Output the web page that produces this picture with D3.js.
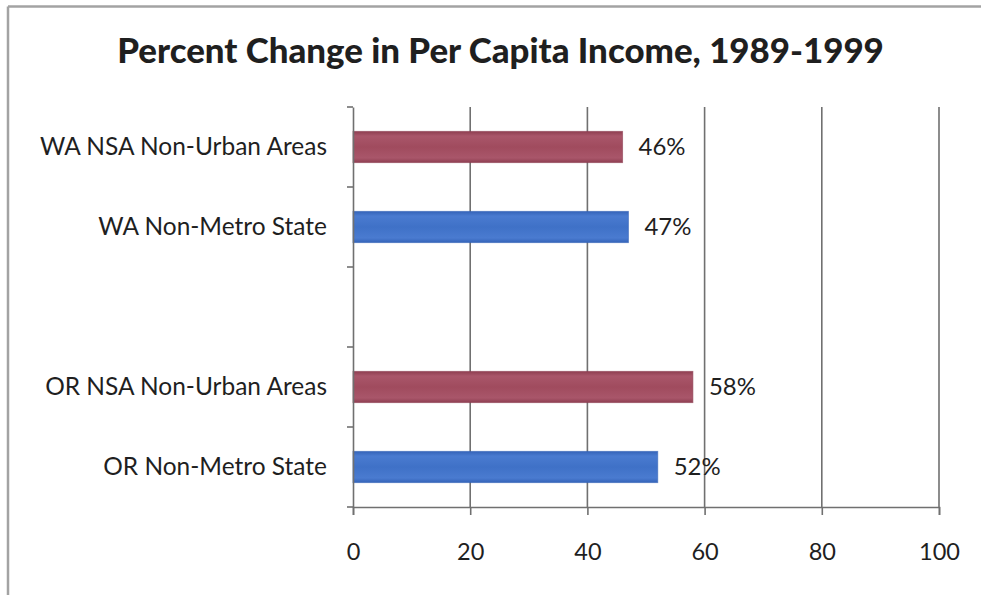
<!DOCTYPE html>
<html>
<head>
<meta charset="utf-8">
<script src="https://cdn.jsdelivr.net/npm/d3@7"></script>
<style>
  html, body { margin: 0; padding: 0; background: #fff; }
  svg { display: block; }
  text { font-family: Lato, "Open Sans", "Liberation Sans", sans-serif; fill: #1f1f1f; }
</style>
</head>
<body>
<svg id="chart" width="981" height="595"></svg>
<script>
// Chart data
const title = "Percent Change in Per Capita Income, 1989-1999";
const categories = ["WA NSA Non-Urban Areas", "WA Non-Metro State", "", "OR NSA Non-Urban Areas", "OR Non-Metro State"];
const values = [46, 47, null, 58, 52];
const groups = ["nsa", "state", null, "nsa", "state"];
const xTicks = [0, 20, 40, 60, 80, 100];

const W = 981, H = 595;
const plot = { left: 353, right: 939, top: 107, bottom: 507 };
const colors = { nsa: ["#a9566a", "#a04b5e", "#8e3e51"], state: ["#4a7bd0", "#3f71c7", "#3463b8"] };

const svg = d3.select("#chart");

// Scale a text element's font size so its rendered width hits a target width
function fitWidth(sel, target) {
  const node = sel.node();
  sel.style("font-size", "100px");
  const w = node.getComputedTextLength();
  const size = 100 * target / w;
  sel.style("font-size", size + "px");
  return size;
}

// Outer frame (top and left edges)
svg.append("line").attr("x1", 8).attr("x2", W).attr("y1", 6.5).attr("y2", 6.5)
  .attr("stroke", "#a3a3a3").attr("stroke-width", 2.5);
svg.append("line").attr("x1", 8).attr("x2", 8).attr("y1", 6.5).attr("y2", H)
  .attr("stroke", "#a3a3a3").attr("stroke-width", 2.5);

// Bar gradients (soft bevel)
const defs = svg.append("defs");
Object.entries(colors).forEach(([k, c]) => {
  const g = defs.append("linearGradient").attr("id", "grad-" + k)
    .attr("x1", 0).attr("x2", 0).attr("y1", 0).attr("y2", 1);
  g.append("stop").attr("offset", "0%").attr("stop-color", c[2]);
  g.append("stop").attr("offset", "15%").attr("stop-color", c[0]);
  g.append("stop").attr("offset", "50%").attr("stop-color", c[1]);
  g.append("stop").attr("offset", "85%").attr("stop-color", c[0]);
  g.append("stop").attr("offset", "100%").attr("stop-color", c[2]);
});

// Scales
const x = d3.scaleLinear().domain([0, 100]).range([plot.left, plot.right]);
const y = d3.scaleBand().domain(categories).range([plot.top, plot.bottom])
  .paddingInner(0.61).paddingOuter(0.305);

// Vertical gridlines
svg.append("g").selectAll("line").data(xTicks.filter(d => d > 0)).join("line")
  .attr("x1", d => x(d)).attr("x2", d => x(d))
  .attr("y1", plot.top).attr("y2", plot.bottom)
  .attr("stroke", "#707070").attr("stroke-width", 1.6);

// Bars
const rows = categories.map((c, i) => ({ cat: c, value: values[i], group: groups[i] }))
  .filter(d => d.value != null);

svg.append("g").selectAll("rect").data(rows).join("rect")
  .attr("x", x(0))
  .attr("y", d => y(d.cat))
  .attr("width", d => x(d.value) - x(0))
  .attr("height", y.bandwidth())
  .attr("fill", d => `url(#grad-${d.group})`)
  .attr("stroke", d => colors[d.group][2])
  .attr("stroke-opacity", 0.6)
  .attr("stroke-width", 1);

// Value labels
const valLabels = svg.append("g").selectAll("text").data(rows).join("text")
  .attr("x", d => x(d.value) + 16)
  .attr("y", d => y(d.cat) + y.bandwidth() / 2 + 8)
  .text(d => d.value + "%");
const valSize = fitWidth(d3.select(valLabels.nodes()[0]), 47);
valLabels.style("font-size", valSize + "px");

// X axis
const xAxis = svg.append("g").attr("transform", `translate(0,${plot.bottom})`)
  .call(d3.axisBottom(x).tickValues(xTicks).tickSizeOuter(0).tickSize(8).tickPadding(36));
xAxis.select(".domain").attr("stroke", "#707070").attr("stroke-width", 1.6);
xAxis.selectAll(".tick line").attr("stroke", "#707070").attr("stroke-width", 1.6);
const xLabels = xAxis.selectAll(".tick text").attr("dy", null).attr("y", 53)
  .attr("fill", "#1f1f1f").attr("font-family", null);
const tickSize = fitWidth(xAxis.selectAll(".tick text").filter(d => d === 100), 41);
xLabels.style("font-size", tickSize + "px");

// Y axis: labels centred on each band, ticks on band boundaries
const yAxis = svg.append("g").attr("transform", `translate(${plot.left},0)`)
  .call(d3.axisLeft(y).tickSize(0).tickPadding(26).tickSizeOuter(0));
yAxis.select(".domain").attr("stroke", "#707070").attr("stroke-width", 1.6);
const yLabels = yAxis.selectAll(".tick text").attr("dy", null).attr("y", 8)
  .attr("fill", "#1f1f1f").attr("font-family", null);
const catSize = fitWidth(yAxis.selectAll(".tick text").filter(d => d === categories[0]), 287);
yLabels.style("font-size", catSize + "px");

const bounds = d3.range(categories.length + 1).map(i => plot.top + i * y.step());
yAxis.append("g").selectAll("line").data(bounds).join("line")
  .attr("x1", -6).attr("x2", 0)
  .attr("y1", d => d).attr("y2", d => d)
  .attr("stroke", "#707070").attr("stroke-width", 1.6);

// Title
const t = svg.append("text")
  .attr("x", 500.5).attr("y", 63)
  .attr("text-anchor", "middle")
  .style("font-weight", "900")
  .attr("fill", "#111")
  .text(title);
fitWidth(t, 767);
</script>
</body>
</html>
